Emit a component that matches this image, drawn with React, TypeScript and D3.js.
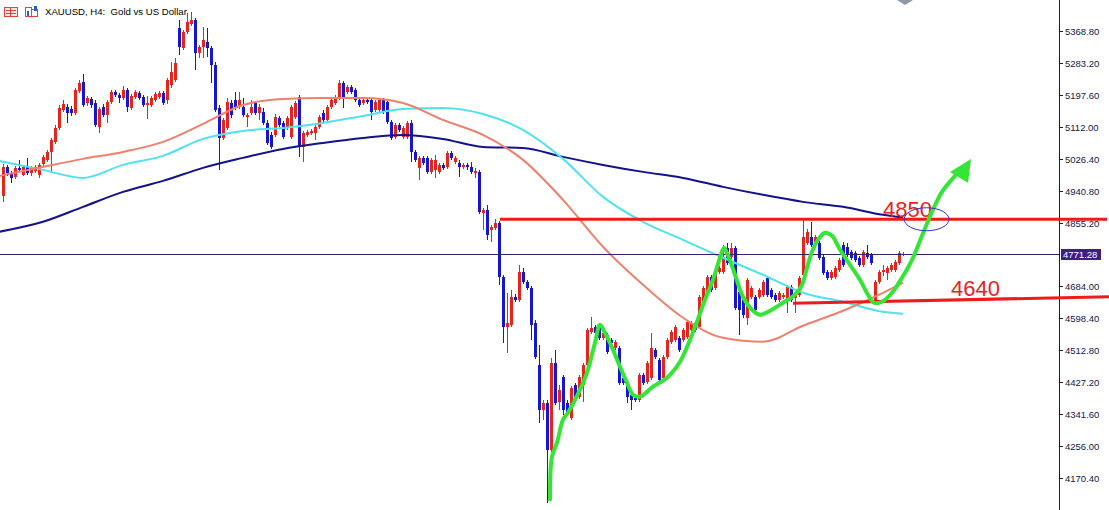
import React, { useEffect } from 'react';
import * as d3 from 'd3';

const W = 1109;
const H = 510;

const opens = [
  4926.6, 5004.2, 4988.1, 4977.4, 5001.5, 4982.8, 5004.2, 4988.1, 4993.5, 4982.8,
  5012.2, 5022.9, 5044.3, 5071.1, 5108.5, 5156.7, 5164.7, 5159.3, 5148.6, 5207.5,
  5231.6, 5175.4, 5186.1, 5175.4, 5111.2, 5164.7, 5143.3, 5178.1, 5204.8, 5196.8,
  5188.8, 5210.2, 5162.0, 5191.4, 5202.1, 5191.4, 5170.0, 5170.0, 5183.4, 5191.4,
  5202.1, 5183.4, 5223.5, 5236.9, 5376.0, 5322.5, 5365.3, 5386.7, 5397.4, 5309.1,
  5325.2, 5338.6, 5322.5, 5277.0, 5162.0, 5081.8, 5108.5, 5175.4, 5183.4, 5164.7,
  5164.7, 5137.9, 5148.6, 5175.4, 5148.6, 5151.3, 5121.9, 5089.8, 5089.8, 5135.3,
  5121.9, 5111.2, 5084.4, 5137.9, 5191.4, 5057.7, 5089.8, 5095.1, 5095.1, 5111.2,
  5148.6, 5129.9, 5164.7, 5175.4, 5188.8, 5228.9, 5204.8, 5218.2, 5210.2, 5183.4,
  5175.4, 5183.4, 5183.4, 5156.7, 5156.7, 5183.4, 5178.1, 5124.6, 5084.4, 5116.5,
  5084.4, 5084.4, 5121.9, 5044.3, 5001.5, 5028.3, 5028.3, 4990.8, 4996.2, 4990.8,
  5009.5, 5004.2, 5041.6, 5017.6, 5014.9, 5004.2, 5009.5, 5004.2, 4988.1, 4990.8,
  4881.1, 4889.2, 4835.7, 4841.0, 4854.4, 4709.9, 4576.2, 4581.5, 4656.4, 4648.4,
  4723.3, 4696.6, 4680.5, 4586.9, 4474.5, 4354.2, 4372.9, 4247.2, 4479.9, 4375.6,
  4442.4, 4372.9, 4332.8, 4421.0, 4388.9, 4421.0, 4474.5, 4562.8, 4576.2, 4576.2,
  4546.8, 4554.8, 4541.4, 4520.0, 4520.0, 4439.8, 4426.4, 4394.3, 4388.9, 4380.9,
  4447.8, 4429.1, 4439.8, 4514.7, 4487.9, 4439.8, 4495.9, 4536.1, 4541.4, 4546.8,
  4541.4, 4549.4, 4568.2, 4586.9, 4576.2, 4640.4, 4667.1, 4709.9, 4680.5, 4723.3,
  4723.3, 4787.5, 4763.4, 4787.5, 4669.8, 4648.4, 4600.3, 4656.4, 4656.4, 4656.4,
  4661.8, 4707.3, 4675.2, 4661.8, 4648.4, 4656.4, 4648.4, 4683.2, 4653.8, 4661.8,
  4715.3, 4800.9, 4816.9, 4800.9, 4800.9, 4763.4, 4723.3, 4707.3, 4709.9, 4728.7,
  4795.5, 4790.2, 4776.8, 4774.1, 4760.8, 4742.0, 4774.1, 4768.8, 4643.0, 4696.6,
  4723.3, 4720.6, 4728.7, 4728.7, 4747.4, 4768.8,
];

const highs = [
  5012.2, 5009.5, 4993.5, 5006.9, 5022.9, 5009.5, 5028.3, 5006.9, 5009.5, 5014.9,
  5036.3, 5049.7, 5081.8, 5116.5, 5170.0, 5183.4, 5172.7, 5167.4, 5215.5, 5236.9,
  5253.0, 5194.1, 5191.4, 5183.4, 5164.7, 5172.7, 5183.4, 5210.2, 5210.2, 5202.1,
  5220.9, 5215.5, 5199.5, 5210.2, 5207.5, 5196.8, 5194.1, 5194.1, 5204.8, 5207.5,
  5207.5, 5242.3, 5285.1, 5295.8, 5397.4, 5370.7, 5416.1, 5418.8, 5402.8, 5330.5,
  5378.7, 5376.0, 5327.9, 5285.1, 5170.0, 5135.3, 5188.8, 5183.4, 5204.8, 5204.8,
  5188.8, 5148.6, 5183.4, 5180.7, 5172.7, 5162.0, 5129.9, 5097.8, 5146.0, 5140.6,
  5127.2, 5140.6, 5170.0, 5180.7, 5196.8, 5100.5, 5103.2, 5105.8, 5116.5, 5143.3,
  5156.7, 5170.0, 5191.4, 5196.8, 5236.9, 5234.2, 5223.5, 5223.5, 5215.5, 5188.8,
  5188.8, 5188.8, 5188.8, 5183.4, 5188.8, 5188.8, 5183.4, 5129.9, 5121.9, 5121.9,
  5113.9, 5127.2, 5129.9, 5049.7, 5033.6, 5033.6, 5033.6, 5028.3, 5036.3, 5014.9,
  5014.9, 5047.0, 5047.0, 5033.6, 5022.9, 5014.9, 5014.9, 5017.6, 5001.5, 4996.2,
  4894.5, 4902.5, 4849.0, 4865.1, 4859.7, 4715.3, 4667.1, 4675.2, 4664.5, 4742.0,
  4734.0, 4701.9, 4685.9, 4594.9, 4528.0, 4380.9, 4380.9, 4493.3, 4514.7, 4421.0,
  4447.8, 4380.9, 4418.3, 4426.4, 4447.8, 4479.9, 4573.5, 4602.9, 4581.5, 4581.5,
  4565.5, 4560.1, 4546.8, 4541.4, 4525.4, 4445.1, 4431.7, 4407.7, 4394.3, 4453.1,
  4453.1, 4485.2, 4560.1, 4520.0, 4493.3, 4501.3, 4546.8, 4568.2, 4581.5, 4552.1,
  4573.5, 4594.9, 4592.2, 4592.2, 4661.8, 4685.9, 4715.3, 4715.3, 4734.0, 4739.4,
  4795.5, 4800.9, 4800.9, 4792.9, 4675.2, 4653.8, 4707.3, 4685.9, 4661.8, 4680.5,
  4701.9, 4712.6, 4680.5, 4667.1, 4672.5, 4667.1, 4688.5, 4688.5, 4667.1, 4712.6,
  4862.4, 4838.3, 4857.1, 4822.3, 4806.2, 4768.8, 4728.7, 4728.7, 4739.4, 4760.8,
  4803.6, 4800.9, 4782.2, 4779.5, 4766.1, 4782.2, 4795.5, 4774.1, 4701.9, 4728.7,
  4742.0, 4739.4, 4747.4, 4755.4, 4779.5, 4776.8,
];

const lows = [
  4910.5, 4980.1, 4961.4, 4972.1, 4990.8, 4980.1, 4982.8, 4980.1, 4988.1, 4974.7,
  5006.9, 5017.6, 4990.8, 5065.7, 5103.2, 5151.3, 5121.9, 5140.6, 5143.3, 5202.1,
  5164.7, 5167.4, 5162.0, 5111.2, 5095.1, 5137.9, 5121.9, 5172.7, 5191.4, 5175.4,
  5183.4, 5151.3, 5156.7, 5186.1, 5183.4, 5164.7, 5132.6, 5164.7, 5178.1, 5186.1,
  5170.0, 5172.7, 5215.5, 5231.6, 5303.8, 5317.2, 5360.0, 5381.4, 5263.7, 5295.8,
  5295.8, 5298.4, 5228.9, 5151.3, 4996.2, 5076.4, 5103.2, 5135.3, 5156.7, 5159.3,
  5137.9, 5111.2, 5143.3, 5143.3, 5129.9, 5116.5, 5063.0, 5052.3, 5084.4, 5111.2,
  5079.1, 5103.2, 5079.1, 5132.6, 5030.9, 5017.6, 5084.4, 5089.8, 5076.4, 5105.8,
  5124.6, 5124.6, 5159.3, 5170.0, 5183.4, 5162.0, 5199.5, 5199.5, 5178.1, 5164.7,
  5170.0, 5172.7, 5129.9, 5151.3, 5151.3, 5146.0, 5119.2, 5076.4, 5079.1, 5097.8,
  5079.1, 5079.1, 5017.6, 5017.6, 4969.4, 5009.5, 4985.5, 4985.5, 4974.7, 4985.5,
  4996.2, 4998.8, 5022.9, 5012.2, 4977.4, 4998.8, 4996.2, 4985.5, 4974.7, 4878.5,
  4835.7, 4808.9, 4803.6, 4835.7, 4688.5, 4533.4, 4506.6, 4576.2, 4643.0, 4643.0,
  4691.2, 4675.2, 4541.4, 4490.6, 4319.4, 4327.4, 4105.4, 4241.8, 4367.5, 4354.2,
  4340.8, 4340.8, 4327.4, 4375.6, 4383.6, 4375.6, 4469.2, 4557.5, 4554.8, 4541.4,
  4541.4, 4504.0, 4528.0, 4514.7, 4421.0, 4421.0, 4372.9, 4354.2, 4375.6, 4375.6,
  4421.0, 4423.7, 4434.4, 4490.6, 4429.1, 4434.4, 4490.6, 4530.7, 4536.1, 4509.3,
  4536.1, 4544.1, 4562.8, 4562.8, 4570.8, 4635.0, 4661.8, 4669.8, 4675.2, 4717.9,
  4717.9, 4742.0, 4758.1, 4621.7, 4554.8, 4600.3, 4581.5, 4651.1, 4616.3, 4651.1,
  4656.4, 4656.4, 4651.1, 4643.0, 4643.0, 4651.1, 4613.6, 4643.0, 4613.6, 4656.4,
  4709.9, 4795.5, 4790.2, 4795.5, 4755.4, 4715.3, 4701.9, 4701.9, 4704.6, 4723.3,
  4736.7, 4763.4, 4755.4, 4750.1, 4736.7, 4736.7, 4758.1, 4742.0, 4637.7, 4691.2,
  4712.6, 4701.9, 4723.3, 4723.3, 4742.0, 4766.1,
];

const closes = [
  5004.2, 4988.1, 4974.7, 5001.5, 4996.2, 5004.2, 4988.1, 5001.5, 5004.2, 5009.5,
  5030.9, 5044.3, 5076.4, 5108.5, 5162.0, 5172.7, 5148.6, 5148.6, 5210.2, 5228.9,
  5170.0, 5188.8, 5170.0, 5116.5, 5159.3, 5143.3, 5178.1, 5204.8, 5196.8, 5188.8,
  5210.2, 5164.7, 5194.1, 5204.8, 5188.8, 5170.0, 5175.4, 5188.8, 5199.5, 5202.1,
  5175.4, 5236.9, 5258.3, 5282.4, 5325.2, 5365.3, 5392.1, 5397.4, 5309.1, 5325.2,
  5343.9, 5322.5, 5277.0, 5156.7, 5081.8, 5129.9, 5178.1, 5143.3, 5164.7, 5183.4,
  5143.3, 5143.3, 5164.7, 5148.6, 5164.7, 5121.9, 5068.4, 5057.7, 5137.9, 5116.5,
  5084.4, 5135.3, 5164.7, 5175.4, 5057.7, 5095.1, 5097.8, 5100.5, 5111.2, 5137.9,
  5129.9, 5164.7, 5183.4, 5191.4, 5228.9, 5188.8, 5218.2, 5204.8, 5183.4, 5170.0,
  5183.4, 5178.1, 5151.3, 5178.1, 5183.4, 5151.3, 5124.6, 5081.8, 5116.5, 5103.2,
  5108.5, 5121.9, 5044.3, 5022.9, 5028.3, 5014.9, 4990.8, 5022.9, 5022.9, 5009.5,
  5001.5, 5041.6, 5028.3, 5028.3, 5004.2, 5009.5, 5004.2, 4990.8, 4993.5, 4883.8,
  4889.2, 4822.3, 4843.7, 4854.4, 4709.9, 4576.2, 4586.9, 4656.4, 4648.4, 4723.3,
  4696.6, 4680.5, 4581.5, 4495.9, 4354.2, 4372.9, 4247.2, 4479.9, 4372.9, 4407.7,
  4354.2, 4346.1, 4413.0, 4380.9, 4442.4, 4474.5, 4568.2, 4573.5, 4560.1, 4546.8,
  4560.1, 4509.3, 4533.4, 4536.1, 4426.4, 4426.4, 4388.9, 4380.9, 4380.9, 4447.8,
  4426.4, 4479.9, 4520.0, 4495.9, 4434.4, 4495.9, 4541.4, 4562.8, 4576.2, 4514.7,
  4568.2, 4589.6, 4586.9, 4568.2, 4656.4, 4680.5, 4709.9, 4675.2, 4728.7, 4734.0,
  4763.4, 4747.4, 4787.5, 4627.0, 4621.7, 4608.3, 4701.9, 4680.5, 4621.7, 4675.2,
  4696.6, 4661.8, 4656.4, 4648.4, 4667.1, 4661.8, 4683.2, 4648.4, 4661.8, 4707.3,
  4816.9, 4830.3, 4795.5, 4816.9, 4760.8, 4720.6, 4707.3, 4723.3, 4734.0, 4755.4,
  4742.0, 4768.8, 4760.8, 4755.4, 4742.0, 4776.8, 4763.4, 4747.4, 4696.6, 4723.3,
  4728.7, 4734.0, 4742.0, 4750.1, 4774.1, 4771.28,
];

// Moving averages, read at these bar indices
const maIndex = [-1, 10, 20, 30, 40, 50, 60, 70, 80, 90, 100, 110, 120, 130, 140, 150, 160, 170, 180, 190, 200, 210, 220, 225];
const maSalmon = [4980.1, 5004.2, 5025.6, 5044.3, 5071.1, 5119.2, 5170.0, 5186.1, 5188.8, 5188.8, 5175.4, 5129.9, 5089.8, 5022.9, 4915.9, 4790.2, 4688.5, 4600.3, 4546.8, 4536.1, 4578.9, 4619.0, 4667.1, 4693.9];
const maCyan = [5020.2, 4996.2, 4974.7, 5009.5, 5033.6, 5079.1, 5100.5, 5108.5, 5121.9, 5140.6, 5159.3, 5162.0, 5146.0, 5103.2, 5025.6, 4923.9, 4857.1, 4808.9, 4760.8, 4715.3, 4667.1, 4643.0, 4616.3, 4610.9];
const maNavy = [4830.3, 4857.1, 4897.2, 4937.3, 4966.7, 5001.5, 5028.3, 5052.3, 5068.4, 5081.8, 5089.8, 5079.1, 5057.7, 5055.0, 5031.0, 5009.5, 4990.8, 4974.7, 4950.7, 4929.3, 4910.5, 4897.2, 4875.8, 4867.8];

const priceTicks = [5368.8, 5283.2, 5197.6, 5112.0, 5026.4, 4940.8, 4855.2, 4684.0, 4598.4, 4512.8, 4427.2, 4341.6, 4256.0, 4170.4];
const currentPrice = 4771.28;

// Hand-drawn annotations (bar index, price)
const greenIdx = [136.75, 137.25, 138.5, 140, 141.25, 144.25, 146, 148, 149.25, 150.5, 152.5, 154.25, 156, 157.5, 159.25, 162.5, 166, 169.25, 171.75, 173.5, 175.5, 177.5, 179.25, 180.25, 181.5, 183.25, 185, 187.25, 189.25, 191.75, 195, 198, 199.75, 201, 202.25, 203.75, 205.5, 207.25, 209.25, 211.75, 214.25, 216.25, 217.75, 219.75, 222.25, 224.75, 227.25, 229.75, 232.25, 234.75, 238];
const greenPrice = [4113.4, 4228.4, 4265.9, 4327.4, 4346.1, 4407.7, 4453.1, 4533.4, 4581.5, 4560.1, 4514.7, 4469.2, 4426.4, 4394.3, 4388.9, 4415.7, 4439.8, 4482.5, 4541.4, 4589.6, 4648.4, 4701.9, 4760.8, 4787.5, 4760.8, 4707.3, 4656.4, 4621.7, 4608.3, 4619.0, 4640.4, 4661.8, 4688.5, 4734.0, 4776.8, 4808.9, 4827.6, 4819.6, 4782.2, 4742.0, 4701.9, 4661.8, 4640.4, 4643.0, 4667.1, 4707.3, 4755.4, 4819.6, 4883.8, 4937.3, 4980.1];
const arrowIdx = [236.75, 242, 241.25];
const arrowPrice = [4990.8, 5025.6, 4961.4];

const resistIdx = [124.25, 276];
const resistPrice = [4864.3, 4864.3];
const supportIdx = [197.5, 276.5];
const supportPrice = [4639.0, 4656.5];
const labels = ['4850', '4640'];
const labelIdx = [220, 237];
const labelPrice = [4871.2, 4657.2];
const ellipseCenter = [230.9, 4864.0];
const ellipseRadius = [5.6, 30.8];

const UP = '#e8231c';
const DOWN = '#1616d2';
const SANS = "'Liberation Sans', Arial, sans-serif";

export default function App() {
  useEffect(() => {
    document.body.style.margin = '0';
    document.body.style.overflow = 'hidden';
  }, []);

  const x = d3.scaleLinear().domain([0, 225]).range([3, 903]);
  const y = d3.scaleLinear().domain([4170.4, 5368.8]).range([478.3, 30.7]);
  const axisX = 1059;

  const maLine = d3
    .line<number>()
    .x((_, i) => x(maIndex[i]))
    .y((d) => y(d))
    .curve(d3.curveMonotoneX);

  const greenLine = d3
    .line<number>()
    .x((_, i) => x(greenIdx[i]))
    .y((d) => y(d))
    .curve(d3.curveCatmullRom.alpha(0.5));

  const fmt = d3.format('.2f');
  const cy = y(currentPrice);

  const candles = closes.map((c, i) => {
    const o = opens[i];
    const up = c >= o;
    const col = up ? UP : DOWN;
    const cx = Math.round(x(i));
    const top = Math.round(y(Math.max(o, c)));
    const bot = Math.round(y(Math.min(o, c)));
    const hy = Math.round(y(highs[i]));
    const ly = Math.round(y(lows[i]));
    return (
      <g key={i}>
        <rect x={cx} y={hy} width={1} height={Math.max(1, ly - hy)} fill={col} />
        <rect x={cx - 1} y={top} width={3} height={Math.max(1, bot - top)} fill={col} />
      </g>
    );
  });

  const arrowPts = arrowIdx.map((v, i) => `${x(v)},${y(arrowPrice[i])}`).join(' ');

  return (
    <svg
      width={W}
      height={H}
      style={{ position: 'absolute', left: 0, top: 0, display: 'block', background: '#ffffff' }}
    >
      <rect x={0} y={0} width={W} height={H} fill="#ffffff" />
      {/* header icons */}
      <g shapeRendering="crispEdges">
        <rect x={4.5} y={7.5} width={13} height={9} fill="#fbe3e0" stroke="#d9463c" />
        <line x1={6} y1={10.5} x2={16} y2={10.5} stroke="#d9463c" />
        <line x1={6} y1={13.5} x2={16} y2={13.5} stroke="#d9463c" />
        <line x1={10.5} y1={8} x2={10.5} y2={16} stroke="#d9463c" />
        <rect x={25.5} y={7.5} width={6} height={9} fill="none" stroke="#d9463c" />
        <rect x={31.5} y={9.5} width={6} height={7} fill="none" stroke="#d9463c" />
        <rect x={34} y={6} width={3} height={5} fill="#2a5fd0" />
        <rect x={27} y={11} width={2} height={5} fill="#2a5fd0" />
      </g>
      <text x={45} y={15} fontFamily={SANS} fontSize={9.6} fill="#000000">
        XAUUSD, H4:{'\u00a0\u00a0'}Gold vs US Dollar
      </text>
      <polygon points="897,0 913,0 905,5" fill="#8f9aa8" />

      <g shapeRendering="crispEdges">{candles}</g>

      {/* moving averages */}
      <path d={maLine(maNavy) || ''} fill="none" stroke="#12128e" strokeWidth={2} />
      <path d={maLine(maCyan) || ''} fill="none" stroke="#4fe3ee" strokeWidth={2} />
      <path d={maLine(maSalmon) || ''} fill="none" stroke="#f0806a" strokeWidth={2} />

      {/* current price line */}
      <line x1={0} y1={Math.round(cy) + 0.5} x2={axisX} y2={Math.round(cy) + 0.5} stroke="#35216f" strokeWidth={1} />

      {/* price axis */}
      <line x1={axisX + 0.5} y1={0} x2={axisX + 0.5} y2={H} stroke="#1a1a40" strokeWidth={1} />
      {priceTicks.map((v) => {
        const ty = Math.round(y(v)) + 0.5;
        return (
          <g key={v}>
            <line x1={axisX} y1={ty} x2={axisX + 4} y2={ty} stroke="#1a1a40" />
            <text x={axisX + 6} y={ty + 3.5} fontFamily={SANS} fontSize={9.5} fill="#151545">
              {fmt(v)}
            </text>
          </g>
        );
      })}
      <rect x={axisX + 2} y={Math.round(cy) - 5} width={40} height={11} fill="#3d1f86" />
      <text x={axisX + 4} y={Math.round(cy) + 4} fontFamily={SANS} fontSize={9.5} fill="#ffffff">
        {fmt(currentPrice)}
      </text>

      {/* key levels */}
      <line
        x1={x(resistIdx[0])}
        y1={y(resistPrice[0])}
        x2={x(resistIdx[1])}
        y2={y(resistPrice[1])}
        stroke="#f01a1a"
        strokeWidth={3}
      />
      <line
        x1={x(supportIdx[0])}
        y1={y(supportPrice[0])}
        x2={x(supportIdx[1])}
        y2={y(supportPrice[1])}
        stroke="#f01a1a"
        strokeWidth={3}
      />
      {labels.map((t, i) => (
        <text key={t} x={x(labelIdx[i])} y={y(labelPrice[i])} fontFamily={SANS} fontSize={22} fill="#e8231c">
          {t}
        </text>
      ))}

      {/* hand-drawn path */}
      <path
        d={greenLine(greenPrice) || ''}
        fill="none"
        stroke="#35e535"
        strokeWidth={4}
        strokeLinejoin="round"
        strokeLinecap="round"
      />
      <polygon points={arrowPts} fill="#35e535" />

      <ellipse
        cx={x(ellipseCenter[0])}
        cy={y(ellipseCenter[1])}
        rx={x(ellipseCenter[0] + ellipseRadius[0]) - x(ellipseCenter[0])}
        ry={y(ellipseCenter[1] - ellipseRadius[1]) - y(ellipseCenter[1])}
        fill="none"
        stroke="#3434c8"
        strokeWidth={1}
      />
    </svg>
  );
}
